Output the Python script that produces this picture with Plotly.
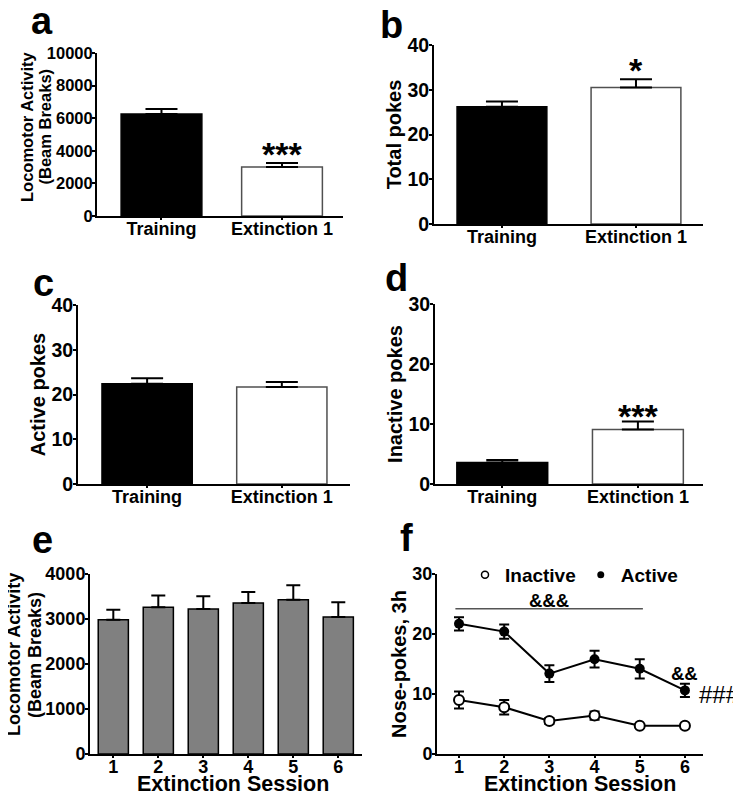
import plotly.graph_objects as go
from plotly.subplots import make_subplots

# panel a-d: two groups
groups = ["Training", "Extinction 1"]
loco_mean = [6250, 3000]
loco_sem = [310, 245]
total_mean = [26.2, 30.5]
total_sem = [1.2, 1.85]
active_mean = [22.4, 21.7]
active_sem = [1.25, 1.1]
inactive_mean = [3.6, 9.1]
inactive_sem = [0.4, 1.3]

# panel e-f: extinction sessions
sessions = [1, 2, 3, 4, 5, 6]
ext_loco_mean = [2985, 3260, 3220, 3355, 3430, 3045]
ext_loco_sem = [220, 260, 285, 245, 320, 325]
f_active = [21.7, 20.4, 13.4, 15.8, 14.2, 10.6]
f_active_sem = [1.1, 1.2, 1.4, 1.4, 1.6, 1.1]
f_inactive = [9.0, 7.8, 5.5, 6.4, 4.7, 4.7]
f_inactive_sem = [1.4, 1.2, 0.5, 0.7, 0.3, 0.4]

FONT = "Liberation Sans, Arial, sans-serif"
OFF = 8  # page body margin
W, H = 741 - OFF, 799 - OFF


def fx(p):
    return (p - OFF) / W


def fy(p):
    return 1 - (p - OFF) / H


fig = make_subplots(rows=3, cols=2)

bar_colors = ["black", "white"]
bar_lines = ["black", "#505050"]


def add_pair(row, col, means, sems):
    fig.add_trace(go.Bar(
        x=groups, y=means, width=0.67,
        marker=dict(color=bar_colors, line=dict(color=bar_lines, width=1.5)),
        error_y=dict(type="data", array=sems, arrayminus=[0, 0], symmetric=False,
                     color="black", thickness=2, width=16),
        showlegend=False), row=row, col=col)


add_pair(1, 1, loco_mean, loco_sem)
add_pair(1, 2, total_mean, total_sem)
add_pair(2, 1, active_mean, active_sem)
add_pair(2, 2, inactive_mean, inactive_sem)

fig.add_trace(go.Bar(
    x=sessions, y=ext_loco_mean, width=0.67,
    marker=dict(color="#808080", line=dict(color="black", width=1.5)),
    error_y=dict(type="data", array=ext_loco_sem, arrayminus=[0] * 6, symmetric=False,
                 color="black", thickness=2, width=7),
    showlegend=False), row=3, col=1)

fig.add_trace(go.Scatter(
    x=sessions, y=f_active, mode="lines+markers",
    line=dict(color="black", width=2),
    marker=dict(symbol="circle", size=10, color="black"),
    error_y=dict(type="data", array=f_active_sem, color="black", thickness=2, width=5),
    showlegend=False), row=3, col=2)
fig.add_trace(go.Scatter(
    x=sessions, y=f_inactive, mode="lines+markers",
    line=dict(color="black", width=2),
    marker=dict(symbol="circle", size=10, color="white", line=dict(color="black", width=2)),
    error_y=dict(type="data", array=f_inactive_sem, color="black", thickness=2, width=5),
    showlegend=False), row=3, col=2)

# legend proxies
fig.add_trace(go.Scatter(x=[None], y=[None], mode="markers", name="Inactive",
                         marker=dict(symbol="circle-open", size=7, color="black",
                                     line=dict(width=1.5))), row=3, col=2)
fig.add_trace(go.Scatter(x=[None], y=[None], mode="markers", name="Active",
                         marker=dict(symbol="circle", size=7, color="black")), row=3, col=2)

axis_style = dict(showline=True, linecolor="black", linewidth=2, ticks="outside",
                  tickwidth=2, tickcolor="black", showgrid=False, zeroline=False,
                  automargin=False,
                  tickfont=dict(family=FONT, size=18, color="black", weight="bold"),
                  title_font=dict(family=FONT, size=20, color="black", weight="bold"))

xdoms = [(97, 343), (434, 703), (78, 350), (435, 703), (90, 362), (437, 703)]
ydoms = [(216, 53), (224, 45), (484, 305), (484, 304), (754, 574), (754, 574)]
xranges = [[-0.535, 1.506], [-0.507, 1.5], [-0.513, 1.506],
           [-0.496, 1.48], [0.482, 6.527], [0.513, 6.40]]
yranges = [[0, 10000], [0, 40], [0, 40], [0, 30], [0, 4000], [0, 30]]
ydticks = [2000, 10, 10, 10, 1000, 10]
ytick_sizes = [16.5, 19.5, 19.5, 19.5, 18, 18]
ytitles = [None, "Total pokes", "Active pokes", "Inactive pokes", None, "Nose-pokes, 3h"]

for i in range(6):
    n = "" if i == 0 else str(i + 1)
    fig.layout["xaxis" + n].update(axis_style, domain=[fx(xdoms[i][0]), fx(xdoms[i][1])],
                                   range=xranges[i], ticklen=2, ticklabelstandoff=-7)
    fig.layout["yaxis" + n].update(axis_style, domain=[fy(ydoms[i][0]), fy(ydoms[i][1])],
                                   range=yranges[i], dtick=ydticks[i], ticklen=3,
                                   ticklabelstandoff=-4, tickformat="d")
    fig.layout["yaxis" + n].tickfont.size = ytick_sizes[i]
    if ytitles[i]:
        fig.layout["yaxis" + n].update(title_text=ytitles[i], title_standoff=0)
fig.layout.xaxis5.update(dtick=1)
fig.layout.xaxis6.update(dtick=1)


def label(txt, x, y, size, angle=0):
    return dict(text=txt, x=fx(x), y=fy(y), xref="paper", yref="paper",
                xanchor="center", yanchor="middle", textangle=angle, showarrow=False,
                font=dict(family=FONT, size=size, color="black", weight="bold"))


ann = []
# two-line locomotor y titles (tight line spacing as in the original)
ann.append(label("Locomotor Activity", 27, 127, 16.5, -90))
ann.append(label("(Beam Breaks)", 44.5, 127, 16.5, -90))
ann.append(label("Locomotor Activity", 14, 655, 18, -90))
ann.append(label("(Beam Breaks)", 35, 655, 18, -90))
# x titles of the session panels
ann.append(label("Extinction Session", 233, 784, 21.5))
ann.append(label("Extinction Session", 580, 784, 21.5))

# panel letters
for t, x, y in [("a", 42, 21), ("b", 391, 25), ("c", 43, 283), ("d", 396, 278),
                ("e", 42, 540), ("f", 406, 538)]:
    ann.append(label(t, x, y, 38))

star_font = dict(family=FONT, size=34, color="black", weight="bold")
ann.append(dict(text="***", x="Extinction 1", y=3800, xref="x", yref="y",
                showarrow=False, font=star_font))
ann.append(dict(text="*", x="Extinction 1", y=34.5, xref="x2", yref="y2",
                showarrow=False, font=star_font))
ann.append(dict(text="***", x="Extinction 1", y=11.4, xref="x4", yref="y4",
                showarrow=False, font=star_font))

amp_font = dict(family=FONT, size=18.5, color="black", weight="bold")
ann.append(dict(text="&&&", x=3, y=25.6, xref="x6", yref="y6", showarrow=False, font=amp_font))
ann.append(dict(text="&&", x=6, y=13.5, xref="x6", yref="y6", showarrow=False, font=amp_font))
ann.append(dict(text="###", x=fx(719), y=10, xref="paper", yref="y6", showarrow=False,
                xanchor="center", font=dict(family=FONT, size=24, color="black")))

fig.add_shape(type="line", x0=0.92, x1=5.07, y0=24.2, y1=24.2, xref="x6", yref="y6",
              line=dict(color="#555555", width=1.5))

fig.update_layout(
    width=W, height=H, margin=dict(l=0, r=0, t=0, b=0),
    paper_bgcolor="white", plot_bgcolor="white",
    annotations=ann,
    legend=dict(orientation="h", x=fx(465), y=fy(575), yanchor="middle", xanchor="left",
                bgcolor="rgba(0,0,0,0)",
                font=dict(family=FONT, size=19, color="black", weight="bold")),
)

fig.write_html("out.html")
